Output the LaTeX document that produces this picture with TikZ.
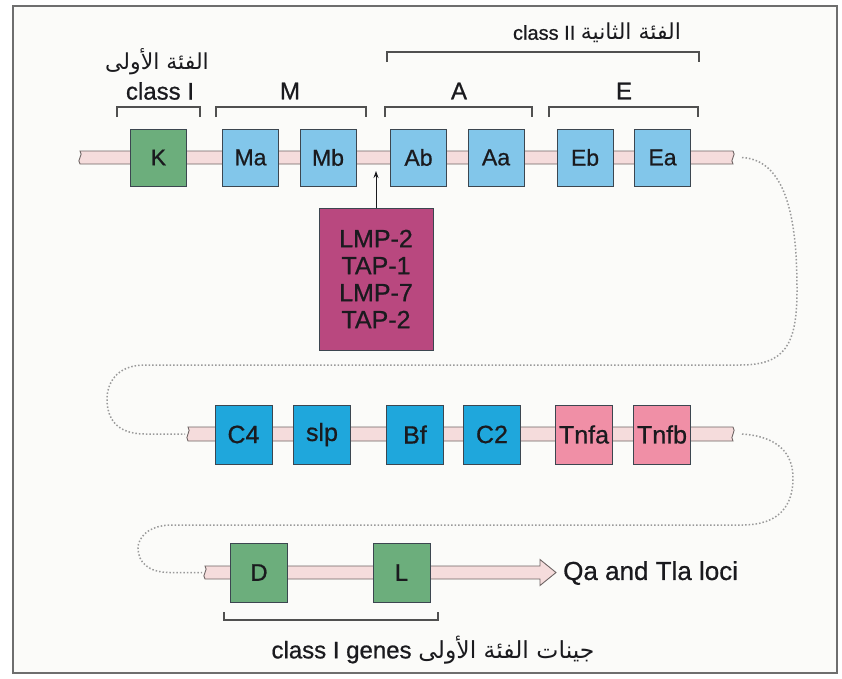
\documentclass[tikz,border=0pt]{standalone}
\usepackage{fontspec}
\setmainfont{Liberation Sans}[FakeBold=0.7]
\newfontfamily\arabicfont[Script=Arabic]{DejaVu Sans}
\TeXXeTstate=1
\usetikzlibrary{calc,arrows.meta}

\definecolor{ink}{HTML}{1A1A1E}
\definecolor{framegray}{HTML}{6E6E6E}
\definecolor{paper}{HTML}{FBFBF9}
\definecolor{boxline}{HTML}{3C4650}
\definecolor{geneGreen}{HTML}{6CAE7C}
\definecolor{geneSky}{HTML}{82C6EA}
\definecolor{geneCyan}{HTML}{1FA7DC}
\definecolor{genePink}{HTML}{F08FA6}
\definecolor{geneMagenta}{HTML}{B9487F}
\definecolor{bandfill}{HTML}{F5DCDC}
\definecolor{bandline}{HTML}{6E6464}
\definecolor{loopgray}{HTML}{9A9A9A}
\definecolor{brackgray}{HTML}{505050}

\tikzset{
  gene/.style={draw=boxline, line width=0.9pt, inner sep=0pt, text=ink,
    minimum width=56pt, minimum height=57pt, font=\fontsize{23}{25}\selectfont},
  geneB/.style={gene, minimum width=57pt, minimum height=59pt,
    font=\fontsize{25}{27}\selectfont},
  classone/.style={gene, fill=geneGreen},
  mhcsky/.style={gene, fill=geneSky},
  mhccyan/.style={geneB, fill=geneCyan},
  tnf/.style={geneB, fill=genePink},
  classthree/.style={geneB, fill=geneGreen, font=\fontsize{24}{26}\selectfont},
  lbl/.style={inner sep=0pt, text=ink},
  bracket/.style={draw=brackgray, line width=1.2pt},
  loopline/.style={draw=loopgray, line width=1.5pt, dotted},
  chromo/.style={fill=bandfill, draw=bandline, line width=0.9pt},
}

% chromosome band between two coordinates, half height #3, with cut ends
\newcommand\chromband[3]{%
  \path[chromo] ($(#1)+(0,-#3)$) -- ($(#2)+(0,-#3)$)
    .. controls ($(#2)+(4,-#3+4)$) and ($(#2)+(-4,#3-4)$) .. ($(#2)+(0,#3)$)
    -- ($(#1)+(0,#3)$)
    .. controls ($(#1)+(-4,#3-4)$) and ($(#1)+(4,-#3+4)$) .. cycle;}

\begin{document}
\begin{tikzpicture}[x=1pt, y=-1pt]
  \useasboundingbox (0,0) rectangle (842,678);
  \fill[white] (0,0) rectangle (842,678);
  \draw[line width=2pt, draw=framegray, fill=paper] (13,6) rectangle (837,673);

  % band end points
  \coordinate (r1w) at (80,157.5);
  \coordinate (r1e) at (733,157.5);
  \coordinate (r2w) at (188,434);
  \coordinate (r2e) at (733,434);
  \coordinate (r3w) at (205,572.5);
  \coordinate (r3tip) at (556,572.5);

  % dotted loops joining the rows
  \draw[loopline] ($(r1e)+(9,0)$) .. controls (790,160) and (797,230) .. (797,290)
    .. controls (797,345) and (785,365) .. (740,365) -- (145,365)
    .. controls (115,365) and (107,385) .. (107,399)
    .. controls (107,420) and (118,434) .. (145,434) -- ($(r2w)+(-3,0)$);
  \draw[loopline] ($(r2e)+(9,0)$) .. controls (785,437) and (793,460) .. (793,478)
    .. controls (793,505) and (780,525) .. (742,525) -- (172,525)
    .. controls (148,525) and (138,538) .. (138,548)
    .. controls (138,562) and (148,572.5) .. (170,572.5) -- ($(r3w)+(-3,0)$);

  % chromosome bands
  \chromband{r1w}{r1e}{6.5}
  \chromband{r2w}{r2e}{7}
  \path[chromo] ($(r3w)+(0,-6.5)$) -- (540,566) -- (540,559.5) -- (r3tip)
    -- (540,585.5) -- (540,579) -- ($(r3w)+(0,6.5)$)
    .. controls ($(r3w)+(-4,2.5)$) and ($(r3w)+(4,-2.5)$) .. cycle;

  % row 1 genes
  \node[classone] (K)  at (158.5,157.5) {K};
  \node[mhcsky]   (Ma) at (250.5,157.5) {Ma};
  \node[mhcsky]   (Mb) at (328,157.5)   {Mb};
  \node[mhcsky]   (Ab) at (418.5,157.5) {Ab};
  \node[mhcsky]   (Aa) at (496,157.5)   {Aa};
  \node[mhcsky]   (Eb) at (585,157.5)   {Eb};
  \node[mhcsky]   (Ea) at (662.5,157.5) {Ea};

  % row 2 genes
  \node[mhccyan] (C4)   at (243.5,434.5) {C4};
  \node[mhccyan] (slp)  at (322,434.5)   {slp};
  \node[mhccyan] (Bf)   at (415,434.5)   {Bf};
  \node[mhccyan] (C2)   at (492,434.5)   {C2};
  \node[tnf]     (Tnfa) at (584,434.5)   {Tnfa};
  \node[tnf]     (Tnfb) at (662,434.5)   {Tnfb};

  % row 3 genes
  \node[classthree] (D) at (259,572.5)   {D};
  \node[classthree] (L) at (401.5,572.5) {L};
  \node[lbl, anchor=west, font=\fontsize{26}{28}\selectfont] (loci) at (563,573)
    {Qa and Tla loci};

  % LMP / TAP cluster
  \node[draw=boxline, line width=0.9pt, fill=geneMagenta, text=ink,
        minimum width=114pt, minimum height=142pt, inner sep=0pt,
        align=center, font=\fontsize{25}{27}\selectfont] (lmp) at (376,279)
    {LMP-2\\TAP-1\\LMP-7\\TAP-2};
  \coordinate (lmptip) at (376,171);
  \draw[line width=0.9pt, draw=ink, -{Stealth[length=7pt,width=5pt]}] (lmp.north) -- (lmptip);

  % brackets
  \draw[bracket] (117,117) -- (117,107) -- (200,107) -- (200,117);
  \draw[bracket] (216,117) -- (216,107) -- (366,107) -- (366,117);
  \draw[bracket] (385,117) -- (385,107) -- (532,107) -- (532,117);
  \draw[bracket] (549,117) -- (549,107) -- (698,107) -- (698,117);
  \draw[bracket] (387,62) -- (387,52) -- (699,52) -- (699,62);
  \draw[bracket] (224,612) -- (224,620) -- (438,620) -- (438,612);

  % labels
  \node[lbl, font=\arabicfont\fontsize{22}{24}\selectfont] (cIar) at (157,62)
    {\beginR الفئة الأولى\endR};
  \node[lbl, font=\fontsize{24}{26}\selectfont] (cI) at (160,91) {class I};
  \node[lbl, font=\fontsize{24}{26}\selectfont] (lM) at (290,91) {M};
  \node[lbl, font=\fontsize{24}{26}\selectfont] (lA) at (459,91) {A};
  \node[lbl, font=\fontsize{24}{26}\selectfont] (lE) at (624,91) {E};
  \node[lbl, font=\fontsize{20}{22}\selectfont] (cII) at (597,33)
    {class II\ {\arabicfont\fontsize{22}{24}\selectfont\beginR الفئة الثانية\endR}};
  \node[lbl, font=\fontsize{24}{26}\selectfont] (genes) at (433,650)
    {class I genes {\arabicfont\fontsize{23.5}{26}\selectfont\beginR جينات الفئة الأولى\endR}};
\end{tikzpicture}
\end{document}
